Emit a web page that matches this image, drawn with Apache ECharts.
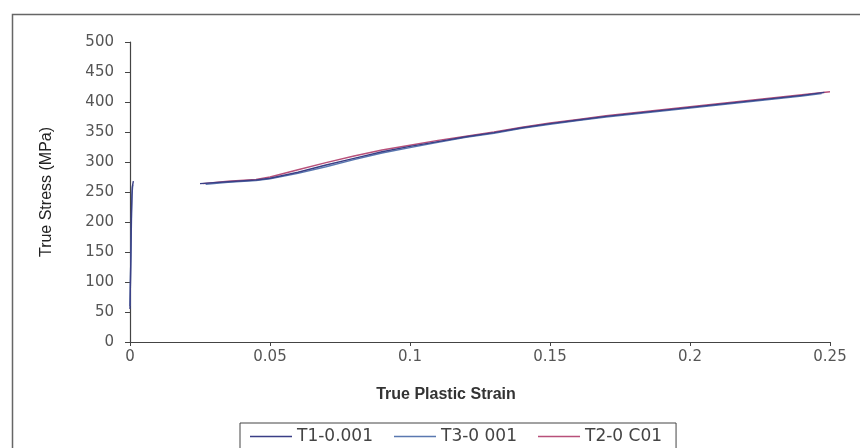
<!DOCTYPE html>
<html>
<head>
<meta charset="utf-8">
<script src="https://cdn.jsdelivr.net/npm/echarts@6/dist/echarts.min.js"></script>
<style>
  html, body { margin: 0; padding: 0; background: #fff; }
  #chart { width: 860px; height: 448px; }
</style>
</head>
<body>
<div id="chart"></div>
<script>
// Series names
const seriesNames = ['T1-0.001', 'T3-0 001', 'T2-0 C01'];

// T1: elastic rise at near-zero strain, then plastic hardening branch
const strainT1 = [0, 0.0003, 0.0005, 0.0008, 0.0012, null, 0.025, 0.035, 0.045, 0.05, 0.06, 0.07, 0.08, 0.09, 0.1, 0.11, 0.12, 0.13, 0.14, 0.15, 0.16, 0.17, 0.18, 0.19, 0.2, 0.21, 0.22, 0.23, 0.24, 0.248];
const stressT1 = [55, 140, 215, 258, 268, null, 264, 267, 270, 273, 283, 295, 306, 317, 326, 334, 342, 349, 357, 364, 370, 376, 381, 386, 391, 396, 401, 406, 411, 416];

// T3
const strainT3 = [0, 0.0004, 0.0007, 0.001, null, 0.027, 0.035, 0.045, 0.05, 0.06, 0.07, 0.08, 0.09, 0.1, 0.11, 0.12, 0.13, 0.14, 0.15, 0.16, 0.17, 0.18, 0.19, 0.2, 0.21, 0.22, 0.23, 0.24, 0.247];
const stressT3 = [60, 170, 245, 262, null, 263, 266, 269, 272, 281, 292, 304, 315, 324, 333, 341, 348, 356, 363, 369, 375, 380, 385, 390, 395, 400, 405, 410, 414];

// T2
const strainT2 = [0.026, 0.035, 0.045, 0.05, 0.06, 0.07, 0.08, 0.09, 0.1, 0.11, 0.12, 0.13, 0.14, 0.15, 0.16, 0.17, 0.18, 0.19, 0.2, 0.21, 0.22, 0.23, 0.24, 0.25];
const stressT2 = [264, 268, 271, 275, 287, 299, 310, 320, 328, 336, 343, 350, 358, 365, 371, 377, 382, 387, 392, 397, 402, 407, 412, 417];

// Axis ranges
const xMin = 0, xMax = 0.25, xStep = 0.05;
const yMin = 0, yMax = 500, yStep = 50;

const colors = ['#3a3f86', '#5a78b0', '#b8507a'];
const labelFont = 'DejaVu Sans, Verdana, sans-serif';

function pairs(xs, ys) {
  return xs.map((x, i) => (x === null ? [null, null] : [x, ys[i]]));
}

const chart = echarts.init(document.getElementById('chart'), null, { renderer: 'canvas' });

const lineSeries = [
  [strainT1, stressT1],
  [strainT3, stressT3],
  [strainT2, stressT2]
].map((s, i) => ({
  name: seriesNames[i],
  type: 'line',
  data: pairs(s[0], s[1]),
  showSymbol: false,
  symbol: 'none',
  connectNulls: false,
  lineStyle: { width: 1.4, color: colors[i] },
  itemStyle: { color: colors[i] },
  z: 3 - i
}));

chart.setOption({
  animation: false,
  backgroundColor: '#ffffff',
  textStyle: { fontFamily: 'Liberation Sans, Arial, sans-serif' },
  graphic: [{
    type: 'rect',
    shape: { x: 12.5, y: 14.5, width: 900, height: 600 },
    style: { fill: 'none', stroke: '#666', lineWidth: 1.5 },
    silent: true
  }],
  grid: { left: 130, right: 30, top: 42, bottom: 106, containLabel: false },
  legend: {
    left: 240,
    top: 423,
    icon: 'rect',
    itemWidth: 42,
    itemHeight: 1.5,
    itemGap: 21,
    borderColor: '#444',
    borderWidth: 1,
    borderRadius: 0,
    padding: [5, 14, 20, 10],
    textStyle: { fontSize: 17, color: '#444', fontFamily: labelFont },
    data: seriesNames
  },
  xAxis: {
    type: 'value',
    min: xMin,
    max: xMax,
    interval: xStep,
    name: 'True Plastic Strain',
    nameLocation: 'middle',
    nameGap: 45,
    nameTextStyle: { fontSize: 16, fontWeight: 'bold', color: '#333', padding: [0, 68, 0, 0] },
    axisLine: { show: true, lineStyle: { color: '#444', width: 1.2 } },
    axisTick: { show: true, length: 4, lineStyle: { color: '#444' } },
    axisLabel: {
      fontSize: 15, color: '#555', margin: 8, fontFamily: labelFont,
      formatter: v => (v === 0 ? '0' : String(+v.toFixed(2)))
    },
    splitLine: { show: false }
  },
  yAxis: {
    type: 'value',
    min: yMin,
    max: yMax,
    interval: yStep,
    name: 'True Stress (MPa)',
    nameLocation: 'middle',
    nameGap: 75,
    nameTextStyle: { fontSize: 16, color: '#222' },
    axisLine: { show: true, lineStyle: { color: '#444', width: 1.2 } },
    axisTick: { show: true, length: 5, lineStyle: { color: '#444' } },
    axisLabel: { fontSize: 15, color: '#555', margin: 16, fontFamily: labelFont },
    splitLine: { show: false }
  },
  series: lineSeries
});
</script>
</body>
</html>
